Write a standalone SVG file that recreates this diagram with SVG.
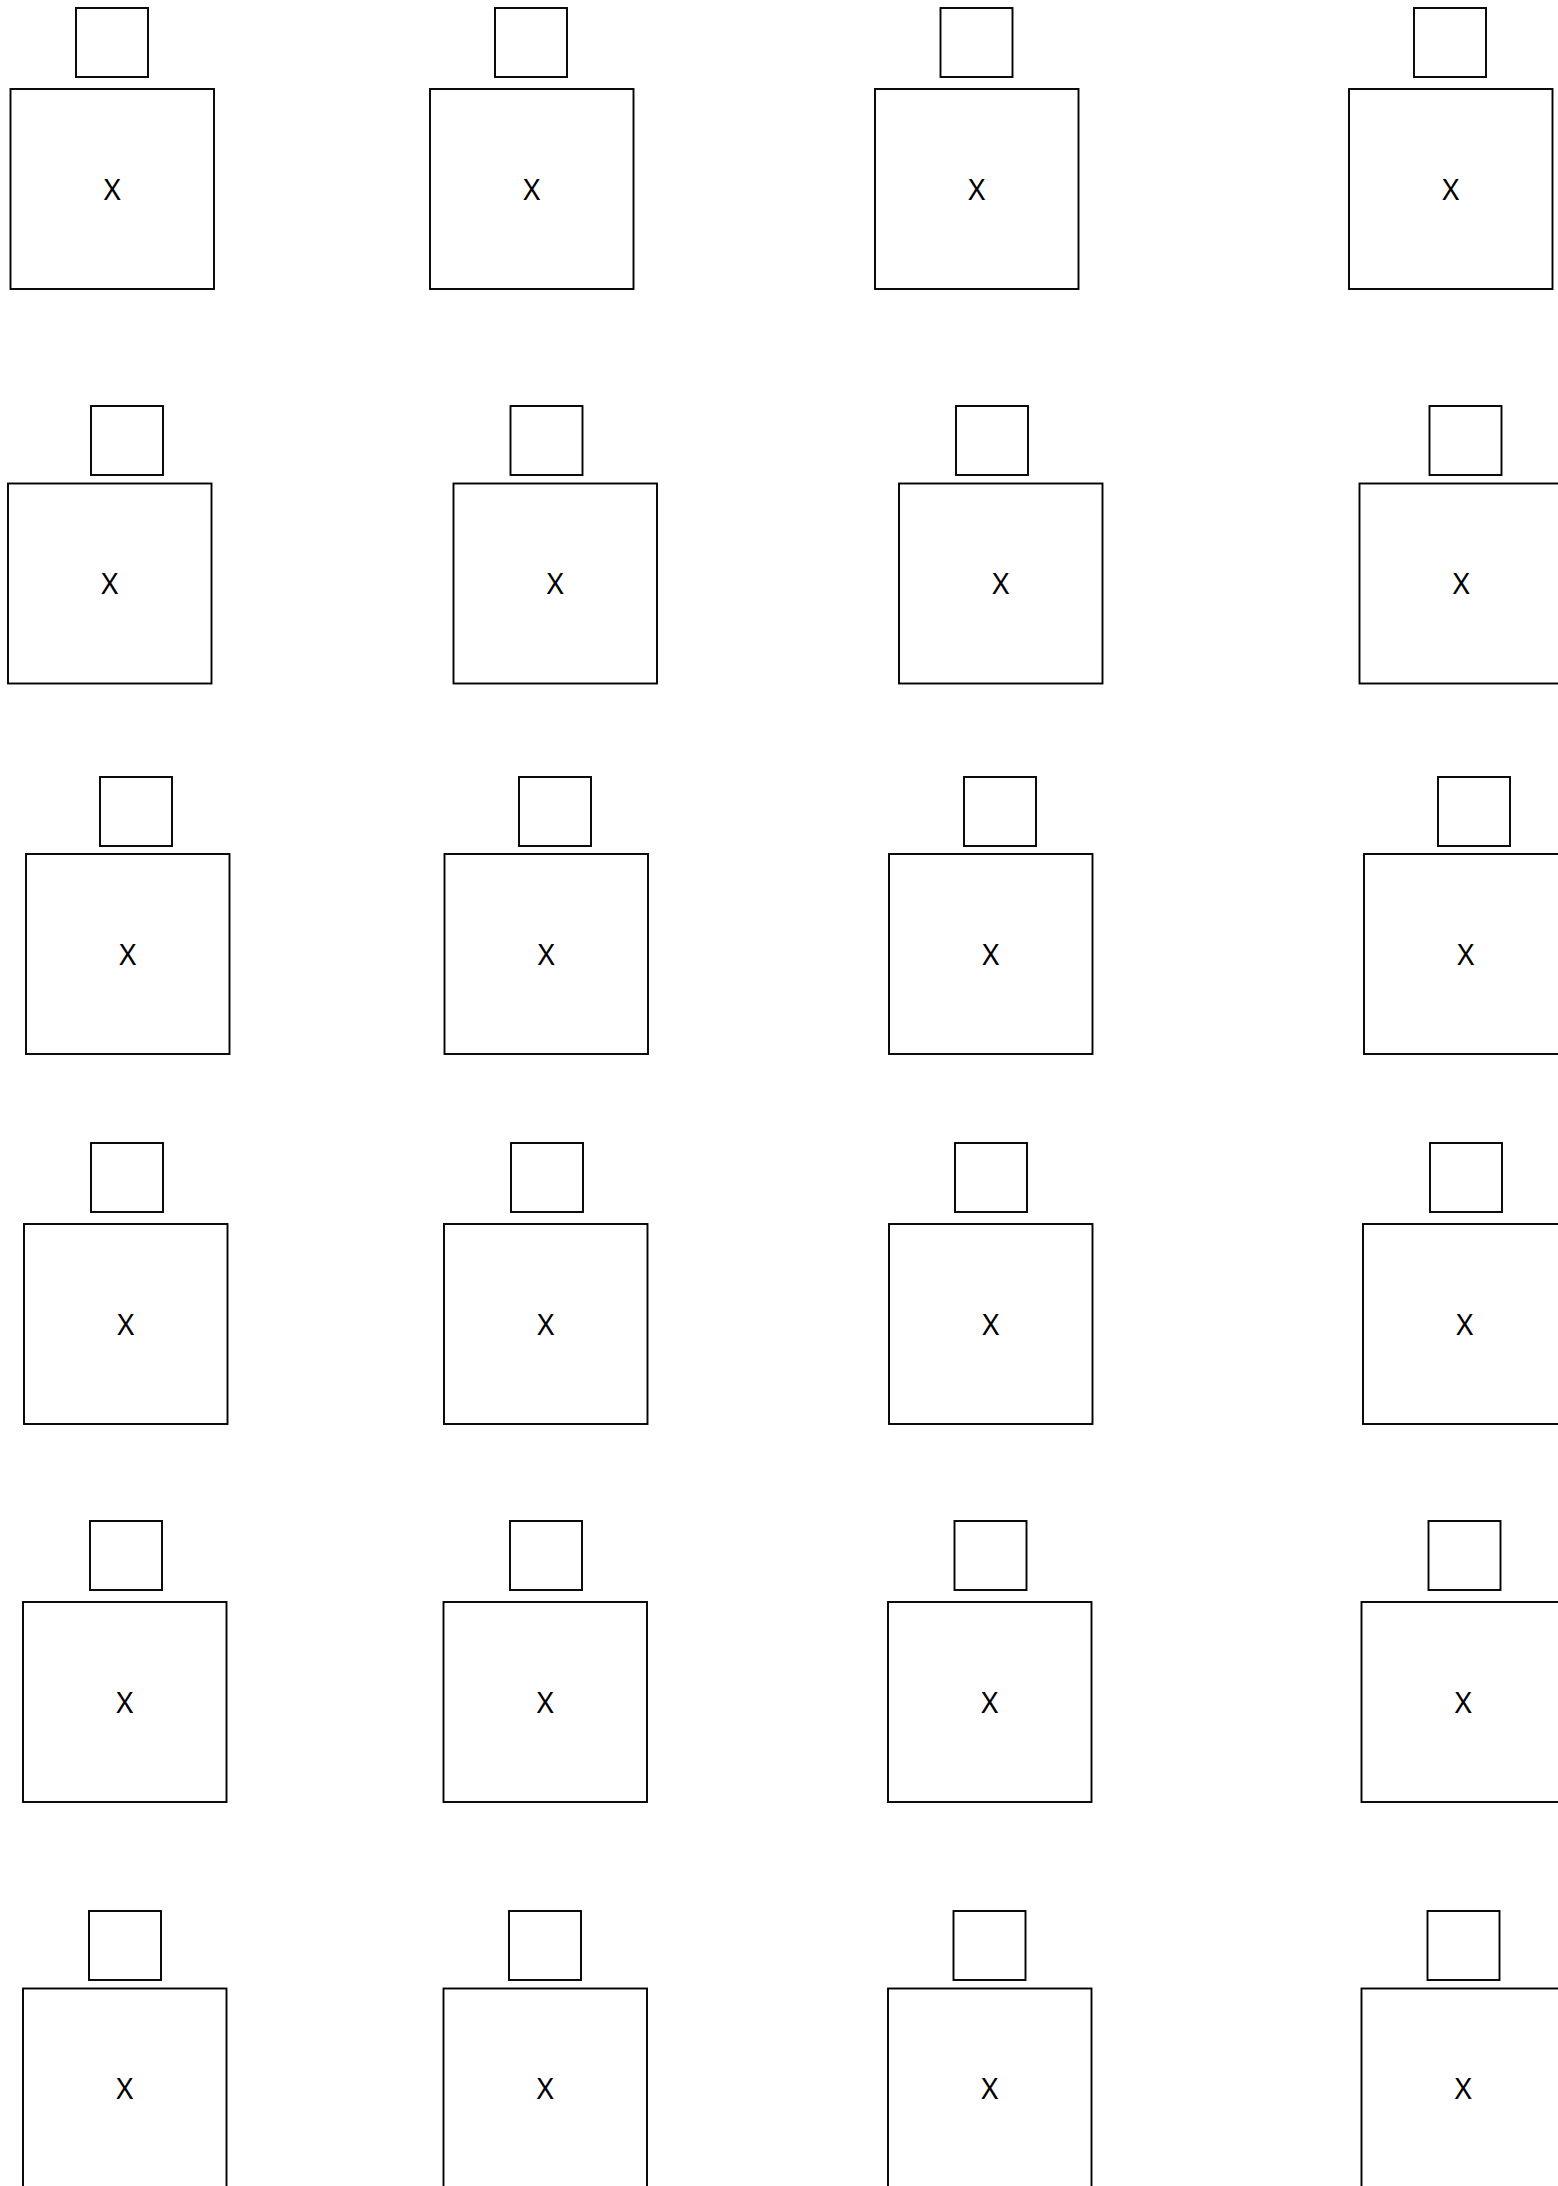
<svg xmlns="http://www.w3.org/2000/svg" width="1558" height="2186" viewBox="0 0 1558 2186">
<style>
.b{fill:#fff;stroke:#000;stroke-width:1.9}
.s{fill:#fff;stroke:#000;stroke-width:1.9}
.t{font-family:"Noto Sans","Open Sans",sans-serif;font-size:29px;fill:#000;text-anchor:middle}
</style>
<rect width="1558" height="2186" fill="#fff"/>
<g id="connectors"/>
<g id="n1-1"><rect class="s" x="76" y="8" width="72" height="69"/><rect class="b" x="10.5" y="89" width="203.5" height="200"/><text class="t" x="112.3" y="199.5">X</text></g>
<g id="n1-2"><rect class="s" x="495" y="8" width="72" height="69"/><rect class="b" x="430" y="89" width="203.5" height="200"/><text class="t" x="531.8" y="199.5">X</text></g>
<g id="n1-3"><rect class="s" x="940.5" y="8" width="72" height="69"/><rect class="b" x="875" y="89" width="203.5" height="200"/><text class="t" x="976.8" y="199.5">X</text></g>
<g id="n1-4"><rect class="s" x="1414" y="8" width="72" height="69"/><rect class="b" x="1349" y="89" width="203.5" height="200"/><text class="t" x="1450.8" y="199.5">X</text></g>

<g id="n2-1"><rect class="s" x="91" y="406" width="72" height="69"/><rect class="b" x="8" y="483.5" width="203.5" height="200"/><text class="t" x="109.8" y="594">X</text></g>
<g id="n2-2"><rect class="s" x="510.5" y="406" width="72" height="69"/><rect class="b" x="453.5" y="483.5" width="203.5" height="200"/><text class="t" x="555.3" y="594">X</text></g>
<g id="n2-3"><rect class="s" x="956" y="406" width="72" height="69"/><rect class="b" x="899" y="483.5" width="203.5" height="200"/><text class="t" x="1000.8" y="594">X</text></g>
<g id="n2-4"><rect class="s" x="1429.5" y="406" width="72" height="69"/><rect class="b" x="1359.5" y="483.5" width="203.5" height="200"/><text class="t" x="1461.3" y="594">X</text></g>

<g id="n3-1"><rect class="s" x="100" y="777" width="72" height="69"/><rect class="b" x="26" y="854" width="203.5" height="200"/><text class="t" x="127.8" y="964.5">X</text></g>
<g id="n3-2"><rect class="s" x="519" y="777" width="72" height="69"/><rect class="b" x="444.5" y="854" width="203.5" height="200"/><text class="t" x="546.3" y="964.5">X</text></g>
<g id="n3-3"><rect class="s" x="964" y="777" width="72" height="69"/><rect class="b" x="889" y="854" width="203.5" height="200"/><text class="t" x="990.8" y="964.5">X</text></g>
<g id="n3-4"><rect class="s" x="1438" y="777" width="72" height="69"/><rect class="b" x="1364" y="854" width="203.5" height="200"/><text class="t" x="1465.8" y="964.5">X</text></g>

<g id="n4-1"><rect class="s" x="91" y="1143" width="72" height="69"/><rect class="b" x="24" y="1224" width="203.5" height="200"/><text class="t" x="125.8" y="1334.5">X</text></g>
<g id="n4-2"><rect class="s" x="511" y="1143" width="72" height="69"/><rect class="b" x="444" y="1224" width="203.5" height="200"/><text class="t" x="545.8" y="1334.5">X</text></g>
<g id="n4-3"><rect class="s" x="955" y="1143" width="72" height="69"/><rect class="b" x="889" y="1224" width="203.5" height="200"/><text class="t" x="990.8" y="1334.5">X</text></g>
<g id="n4-4"><rect class="s" x="1430" y="1143" width="72" height="69"/><rect class="b" x="1363" y="1224" width="203.5" height="200"/><text class="t" x="1464.8" y="1334.5">X</text></g>

<g id="n5-1"><rect class="s" x="90" y="1521" width="72" height="69"/><rect class="b" x="23" y="1602" width="203.5" height="200"/><text class="t" x="124.8" y="1712.5">X</text></g>
<g id="n5-2"><rect class="s" x="510" y="1521" width="72" height="69"/><rect class="b" x="443.5" y="1602" width="203.5" height="200"/><text class="t" x="545.3" y="1712.5">X</text></g>
<g id="n5-3"><rect class="s" x="954.5" y="1521" width="72" height="69"/><rect class="b" x="888" y="1602" width="203.5" height="200"/><text class="t" x="989.8" y="1712.5">X</text></g>
<g id="n5-4"><rect class="s" x="1428.5" y="1521" width="72" height="69"/><rect class="b" x="1361.5" y="1602" width="203.5" height="200"/><text class="t" x="1463.3" y="1712.5">X</text></g>

<g id="n6-1"><rect class="s" x="89" y="1911" width="72" height="69"/><rect class="b" x="23" y="1988.5" width="203.5" height="200"/><text class="t" x="124.8" y="2099">X</text></g>
<g id="n6-2"><rect class="s" x="509" y="1911" width="72" height="69"/><rect class="b" x="443.5" y="1988.5" width="203.5" height="200"/><text class="t" x="545.3" y="2099">X</text></g>
<g id="n6-3"><rect class="s" x="953.5" y="1911" width="72" height="69"/><rect class="b" x="888" y="1988.5" width="203.5" height="200"/><text class="t" x="989.8" y="2099">X</text></g>
<g id="n6-4"><rect class="s" x="1427.5" y="1911" width="72" height="69"/><rect class="b" x="1361.5" y="1988.5" width="203.5" height="200"/><text class="t" x="1463.3" y="2099">X</text></g>
</svg>
